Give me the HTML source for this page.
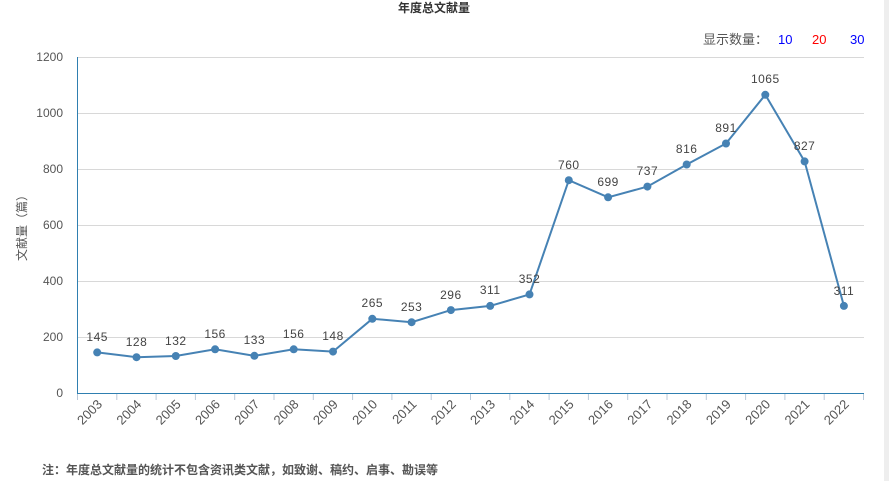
<!DOCTYPE html>
<html><head><meta charset="utf-8"><style>
body{margin:0;background:#fff;width:889px;height:481px;overflow:hidden;font-family:"Liberation Sans","Noto Sans CJK SC",sans-serif;}
</style></head><body>
<svg width="889" height="481" xmlns="http://www.w3.org/2000/svg" style="font-family:'Liberation Sans','Noto Sans CJK SC',sans-serif">
<rect x="884" y="0" width="5" height="481" fill="#eeeeee"/>
<text x="434" y="12" font-size="12" font-weight="bold" fill="#333" text-anchor="middle">年度总文献量</text>
<text x="703" y="44" font-size="13" fill="#555">显示数量：</text>
<text x="778" y="44" font-size="13" fill="#0000ff">10</text>
<text x="812" y="44" font-size="13" fill="#ff0000">20</text>
<text x="850" y="44" font-size="13" fill="#0000ff">30</text>
<g stroke="#d8d8d8" stroke-width="1">
<line x1="77.5" x2="864" y1="57.5" y2="57.5"/>
<line x1="77.5" x2="864" y1="113.5" y2="113.5"/>
<line x1="77.5" x2="864" y1="169.5" y2="169.5"/>
<line x1="77.5" x2="864" y1="225.5" y2="225.5"/>
<line x1="77.5" x2="864" y1="281.5" y2="281.5"/>
<line x1="77.5" x2="864" y1="337.5" y2="337.5"/>
</g>
<g font-size="12" fill="#555" text-anchor="end">
<text x="63" y="61">1200</text><text x="63" y="117">1000</text><text x="63" y="173">800</text>
<text x="63" y="229">600</text><text x="63" y="285">400</text><text x="63" y="341">200</text><text x="63" y="397">0</text>
</g>
<text transform="translate(26,225) rotate(-90)" font-size="12" fill="#555" text-anchor="middle">文献量（篇）</text>
<line x1="77.5" y1="57" x2="77.5" y2="393" stroke="#2f7fb0" stroke-width="1"/>
<line x1="77" y1="393.5" x2="864" y2="393.5" stroke="#2f7fb0" stroke-width="1"/>
<g stroke="#b8c8d8" stroke-width="1">
<line x1="77.5" x2="77.5" y1="394" y2="400"/><line x1="116.8" x2="116.8" y1="394" y2="400"/><line x1="156.1" x2="156.1" y1="394" y2="400"/><line x1="195.4" x2="195.4" y1="394" y2="400"/><line x1="234.7" x2="234.7" y1="394" y2="400"/><line x1="274" x2="274" y1="394" y2="400"/><line x1="313.3" x2="313.3" y1="394" y2="400"/><line x1="352.6" x2="352.6" y1="394" y2="400"/><line x1="391.9" x2="391.9" y1="394" y2="400"/><line x1="431.2" x2="431.2" y1="394" y2="400"/><line x1="470.5" x2="470.5" y1="394" y2="400"/><line x1="509.8" x2="509.8" y1="394" y2="400"/><line x1="549.1" x2="549.1" y1="394" y2="400"/><line x1="588.4" x2="588.4" y1="394" y2="400"/><line x1="627.7" x2="627.7" y1="394" y2="400"/><line x1="667" x2="667" y1="394" y2="400"/><line x1="706.3" x2="706.3" y1="394" y2="400"/><line x1="745.6" x2="745.6" y1="394" y2="400"/><line x1="784.9" x2="784.9" y1="394" y2="400"/><line x1="824.2" x2="824.2" y1="394" y2="400"/><line x1="863.5" x2="863.5" y1="394" y2="400"/>
</g>
<g font-size="13" fill="#555" text-anchor="end">
<text transform="translate(103,405) rotate(-45)">2003</text>
<text transform="translate(142.3,405) rotate(-45)">2004</text>
<text transform="translate(181.6,405) rotate(-45)">2005</text>
<text transform="translate(220.9,405) rotate(-45)">2006</text>
<text transform="translate(260.2,405) rotate(-45)">2007</text>
<text transform="translate(299.5,405) rotate(-45)">2008</text>
<text transform="translate(338.8,405) rotate(-45)">2009</text>
<text transform="translate(378.1,405) rotate(-45)">2010</text>
<text transform="translate(417.4,405) rotate(-45)">2011</text>
<text transform="translate(456.7,405) rotate(-45)">2012</text>
<text transform="translate(496,405) rotate(-45)">2013</text>
<text transform="translate(535.3,405) rotate(-45)">2014</text>
<text transform="translate(574.6,405) rotate(-45)">2015</text>
<text transform="translate(613.9,405) rotate(-45)">2016</text>
<text transform="translate(653.2,405) rotate(-45)">2017</text>
<text transform="translate(692.5,405) rotate(-45)">2018</text>
<text transform="translate(731.8,405) rotate(-45)">2019</text>
<text transform="translate(771.1,405) rotate(-45)">2020</text>
<text transform="translate(810.4,405) rotate(-45)">2021</text>
<text transform="translate(849.7,405) rotate(-45)">2022</text>
</g>
<polyline fill="none" stroke="#4682b4" stroke-width="2" points="97.2,352.4 136.5,357.2 175.8,356 215.1,349.3 254.4,355.8 293.7,349.3 333,351.6 372.3,318.8 411.6,322.2 450.9,310.1 490.2,305.9 529.5,294.4 568.8,180.2 608.1,197.3 647.4,186.6 686.7,164.5 726,143.5 765.3,94.8 804.6,161.4 843.9,305.9"/>
<g fill="#4682b4">
<circle cx="97.2" cy="352.4" r="4"/><circle cx="136.5" cy="357.2" r="4"/><circle cx="175.8" cy="356" r="4"/><circle cx="215.1" cy="349.3" r="4"/><circle cx="254.4" cy="355.8" r="4"/><circle cx="293.7" cy="349.3" r="4"/><circle cx="333" cy="351.6" r="4"/><circle cx="372.3" cy="318.8" r="4"/><circle cx="411.6" cy="322.2" r="4"/><circle cx="450.9" cy="310.1" r="4"/><circle cx="490.2" cy="305.9" r="4"/><circle cx="529.5" cy="294.4" r="4"/><circle cx="568.8" cy="180.2" r="4"/><circle cx="608.1" cy="197.3" r="4"/><circle cx="647.4" cy="186.6" r="4"/><circle cx="686.7" cy="164.5" r="4"/><circle cx="726" cy="143.5" r="4"/><circle cx="765.3" cy="94.8" r="4"/><circle cx="804.6" cy="161.4" r="4"/><circle cx="843.9" cy="305.9" r="4"/>
</g>
<g font-size="12" fill="#444" text-anchor="middle" letter-spacing="0.5">
<text x="97.2" y="341">145</text><text x="136.5" y="346">128</text><text x="175.8" y="345">132</text><text x="215.1" y="338">156</text><text x="254.4" y="344">133</text><text x="293.7" y="338">156</text><text x="333" y="340">148</text><text x="372.3" y="307">265</text><text x="411.6" y="311">253</text><text x="450.9" y="299">296</text><text x="490.2" y="294">311</text><text x="529.5" y="283">352</text><text x="568.8" y="169">760</text><text x="608.1" y="186">699</text><text x="647.4" y="175">737</text><text x="686.7" y="153">816</text><text x="726" y="132">891</text><text x="765.3" y="83">1065</text><text x="804.6" y="150">827</text><text x="843.9" y="295">311</text>
</g>
<text x="42" y="474" font-size="12" font-weight="bold" fill="#555">注：年度总文献量的统计不包含资讯类文献，如致谢、稿约、启事、勘误等</text>
</svg>
</body></html>
